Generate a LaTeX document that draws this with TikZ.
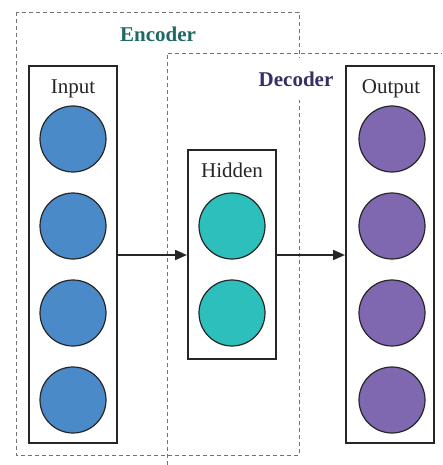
\documentclass[tikz,border=0pt]{standalone}
\usepackage{fontspec}
\setmainfont{Liberation Serif}
\usetikzlibrary{arrows.meta}
\definecolor{inblue}{HTML}{4A8AC8}
\definecolor{hidteal}{HTML}{2CBFBC}
\definecolor{outpurple}{HTML}{7F68B0}
\definecolor{enccol}{HTML}{1F6B63}
\definecolor{deccol}{HTML}{3A2F63}
\tikzset{
  layerbox/.style={draw=black!85, line width=2pt, fill=none},
  neuron/.style={circle, draw=black!85, line width=1.2pt, minimum size=66pt, inner sep=0pt},
  grouparea/.style={draw=black!55, line width=0.9pt, dash pattern=on 4pt off 3pt},
  layerlabel/.style={font=\fontsize{21}{24}\selectfont, text=black!85},
  grouplabel/.style={font=\fontsize{21}{24}\selectfont\bfseries, fill=white, inner sep=2pt},
  flow/.style={draw=black!85, line width=2pt, -{Triangle[length=12pt,width=10pt]}}
}
\begin{document}
\begin{tikzpicture}[x=1pt,y=-1pt]
\useasboundingbox (0,0) rectangle (442,465);
% encoder / decoder regions
\draw[grouparea] (16,12) rectangle (299,455);
\draw[grouparea] (167,465) -- (167,53) -- (442,53);
\node[grouplabel, text=enccol] (enc) at (158,34) {Encoder};
\node[grouplabel, text=deccol, minimum height=42pt] (dec) at (296,79) {Decoder};
% layer boxes
\node[layerbox, minimum width=88pt, minimum height=377pt, inner sep=0pt] (inbox) at (73,254.5) {};
\node[layerbox, minimum width=88pt, minimum height=209pt, inner sep=0pt] (hidbox) at (232,254.5) {};
\node[layerbox, minimum width=88pt, minimum height=377pt, inner sep=0pt] (outbox) at (390,254.5) {};
\node[layerlabel] (inlab) at (73,89) {Input};
\node[layerlabel] (hidlab) at (232,170) {Hidden};
\node[layerlabel] (outlab) at (391,89) {Output};
% neurons
\foreach \i/\y in {1/139,2/226,3/313,4/400}{
  \node[neuron, fill=inblue] (in\i) at (73,\y) {};
  \node[neuron, fill=outpurple] (out\i) at (392,\y) {};
}
\node[neuron, fill=hidteal] (hid1) at (232,226) {};
\node[neuron, fill=hidteal] (hid2) at (232,313) {};
% connections
\draw[flow] (inbox.east |- 0,255) -- (hidbox.west |- 0,255);
\draw[flow] (hidbox.east |- 0,255) -- (outbox.west |- 0,255);
\end{tikzpicture}
\end{document}
